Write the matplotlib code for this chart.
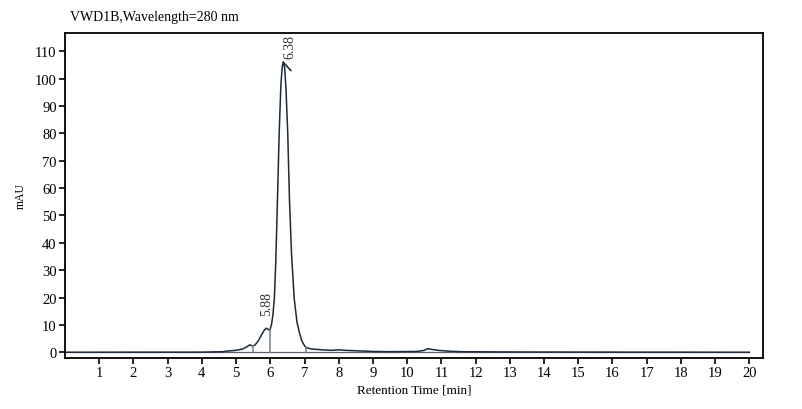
import matplotlib.pyplot as plt

# chromatogram trace (min, mAU)
times = [0.0, 4.0, 4.6, 4.8, 5.0, 5.2, 5.3, 5.4, 5.48, 5.55, 5.65, 5.75, 5.82,
         5.88, 5.95, 5.99, 6.04, 6.08, 6.12, 6.16, 6.21, 6.26, 6.31, 6.35,
         6.38, 6.42, 6.46, 6.51, 6.56, 6.62, 6.70, 6.78, 6.85, 6.92, 7.0,
         7.05, 7.2, 7.5, 7.8, 8.0, 8.2, 8.6, 9.0, 9.5, 10.3, 10.5, 10.6,
         10.7, 10.9, 11.2, 11.6, 13.0, 16.0, 20.0]
signal = [0.0, 0.05, 0.2, 0.5, 0.7, 1.2, 1.9, 2.7, 2.3, 2.6, 4.2, 6.5, 8.0,
          8.8, 8.3, 8.0, 10.5, 14.0, 20.0, 33.0, 56.0, 80.0, 98.0, 104.5,
          106.0, 104.0, 96.0, 80.0, 56.0, 36.0, 19.5, 11.0, 7.2, 4.2, 2.4,
          1.7, 1.2, 0.9, 0.7, 0.9, 0.7, 0.5, 0.3, 0.2, 0.3, 0.7, 1.3, 1.1,
          0.7, 0.4, 0.2, 0.1, 0.05, 0.0]

# integration marks
peak_times = [6.38, 5.88]
peak_heights = [106.0, 8.8]
peak_labels = ['6.38', '5.88']
drop_times = [5.48, 5.99, 7.05]
drop_heights = [2.3, 8.0, 1.7]

x_ticks = list(range(1, 21))
y_ticks = list(range(0, 111, 10))

trace_color = '#1c2a3a'
mark_color = '#7f8790'

plt.rcParams['font.family'] = ['Liberation Serif', 'DejaVu Serif']

fig = plt.figure(figsize=(8.02, 4.10), dpi=100)
ax = fig.add_axes([65 / 802, 1 - 359 / 410, (763 - 65) / 802, (359 - 34) / 410])

# zero baseline
ax.plot([0, 20], [0, 0], color='#5a6470', lw=0.9)
ax.plot(times, signal, color=trace_color, lw=1.1)

for t, h in zip(drop_times, drop_heights):
    ax.plot([t, t], [0, h], color=mark_color, lw=1.2)

# apex marker and labels
ax.plot([6.38, 6.6], [106.0, 103.0], color=trace_color, lw=1.2)
ax.text(6.58, 107.5, peak_labels[0], rotation=90, ha='center', va='bottom',
        fontsize=10, color='#333333')
ax.text(5.88, 13.5, peak_labels[1], rotation=90, ha='center', va='bottom',
        fontsize=10, color='#333333')

ax.set_xlim(0, 20.4)
ax.set_ylim(-2.1, 116.7)
ax.set_xticks(x_ticks)
ax.set_yticks(y_ticks)
ax.tick_params(direction='out', length=4, width=1.2, labelsize=10.5, pad=2)
for s in ax.spines.values():
    s.set_linewidth(1.3)

ax.set_xlabel('Retention Time [min]', fontsize=9.5, labelpad=3)
ax.set_ylabel('mAU', fontsize=8.5)
ax.yaxis.set_label_coords(-0.054, 0.5)
fig.text(70 / 802, 1 - 18 / 410, 'VWD1B,Wavelength=280 nm',
         fontsize=10, va='center', ha='left')

fig.savefig('out.png', dpi=100)
